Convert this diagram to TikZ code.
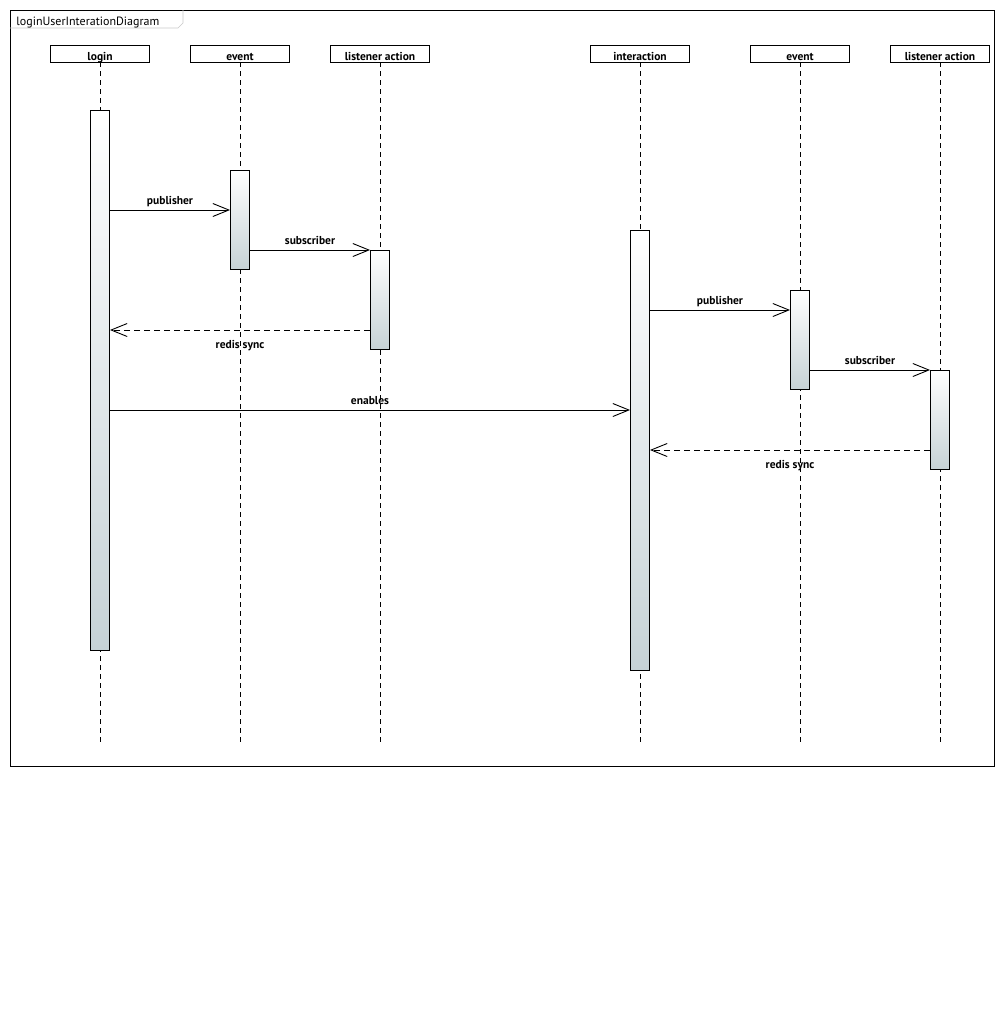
\documentclass[tikz,border=0pt]{standalone}
\usepackage{fontspec}
\setmainfont{PT Sans}
\usetikzlibrary{arrows.meta}
\definecolor{actbot}{RGB}{198,210,214}
\definecolor{tabline}{RGB}{200,200,200}
\begin{document}
\begin{tikzpicture}[x=1pt,y=-1pt,line width=0.9pt,
  head/.style={draw,fill=white,minimum width=99pt,minimum height=17pt,inner sep=0pt},
  headtxt/.style={anchor=base,inner sep=0pt,font=\fontsize{11.5}{13}\selectfont\bfseries},
  life/.style={dash pattern=on 5pt off 4pt,line width=0.8pt},
  act/.style={draw,minimum width=19pt,inner sep=0pt,top color=white,bottom color=actbot},
  msg/.style={-{Straight Barb[length=16pt,width=13pt]}},
  reply/.style={msg,dash pattern=on 6pt off 4pt},
  lbl/.style={inner sep=0pt,font=\fontsize{11.5}{13}\selectfont\bfseries},
  above lbl/.style={lbl,anchor=base,yshift=6pt},
  below lbl/.style={lbl,anchor=base,yshift=-18pt}]
\useasboundingbox (0,0) rectangle (1005,1020);
% frame and its name tab
\draw (10,10) rectangle (994,766);
\draw[tabline,line width=0.6pt] (10,28) -- (178,28) -- (183,23) -- (183,10);
\node[anchor=base west,inner sep=0pt,font=\fontsize{12}{14}\selectfont] (title) at (16,25) {loginUserInterationDiagram};
% lifeline heads
\foreach \n/\x/\t in {login/100/login,eventA/240/event,listA/380/listener action,
                      inter/640/interaction,eventB/800/event,listB/940/listener action}{
  \node[head] (\n) at (\x,53.5) {};
  \node[headtxt] (\n-name) at (\x,60) {\t};
}
% lifelines
\foreach \n in {login,eventA,listA,inter,eventB,listB}{
  \coordinate (\n-end) at (\n.south |- 0,743);
  \draw[life] (\n.south) -- (\n-end);
}
% activations
\node[act,minimum height=540pt] (loginAct) at (100,380) {};
\node[act,minimum height=99pt] (eventAAct) at (240,219.5) {};
\node[act,minimum height=99pt] (listAAct) at (380,299.5) {};
\node[act,minimum height=440pt] (interAct) at (640,450) {};
\node[act,minimum height=99pt] (eventBAct) at (800,339.5) {};
\node[act,minimum height=99pt] (listBAct) at (940,419.5) {};
% messages
\draw[msg] (loginAct.east |- 0,210) -- node[above lbl] {publisher} (eventAAct.west |- 0,210);
\draw[msg] (eventAAct.east |- 0,250) -- node[above lbl] {subscriber} (listAAct.west |- 0,250);
\draw[reply] (listAAct.west |- 0,330) -- node[below lbl] {redis sync} (loginAct.east |- 0,330);
\draw[msg] (loginAct.east |- 0,410) -- node[above lbl] {enables} (interAct.west |- 0,410);
\draw[msg] (interAct.east |- 0,310) -- node[above lbl] {publisher} (eventBAct.west |- 0,310);
\draw[msg] (eventBAct.east |- 0,370) -- node[above lbl] {subscriber} (listBAct.west |- 0,370);
\draw[reply] (listBAct.west |- 0,450) -- node[below lbl] {redis sync} (interAct.east |- 0,450);
\end{tikzpicture}
\end{document}
